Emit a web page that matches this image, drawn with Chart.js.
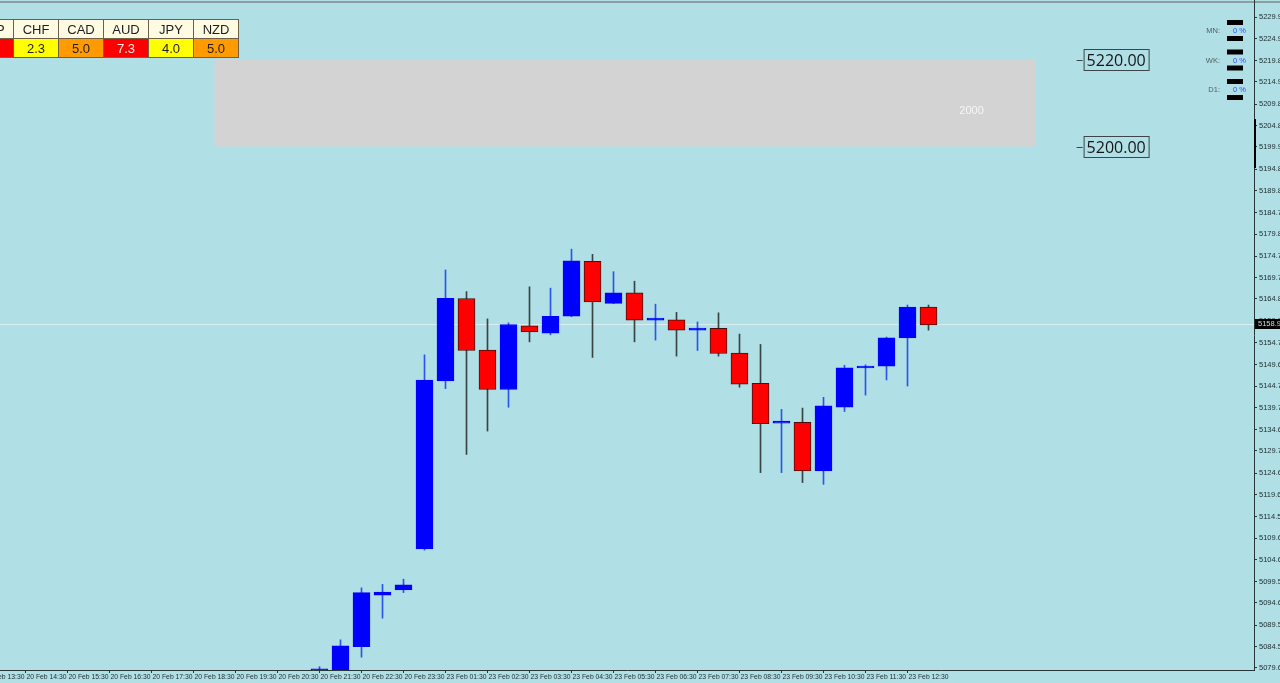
<!DOCTYPE html>
<html lang="en">
<head>
<meta charset="UTF-8" />
<title>Candles M30</title>
<script src="https://cdn.jsdelivr.net/npm/chart.js"></script>
<style>
  html, body { margin: 0; padding: 0; background: #b0e0e6; overflow: hidden; }
  #wrap { position: relative; width: 1280px; height: 683px; overflow: hidden; }
  canvas { position: absolute; left: 0; top: 0; }
  table.strength {
    position: absolute; left: -32px; top: 19px;
    border-collapse: collapse; table-layout: fixed;
    font-family: "Liberation Sans", Arial, sans-serif; font-size: 13px;
  }
  table.strength td {
    width: 44px; height: 18px; padding: 0;
    border: 1px solid #6e6048; text-align: center; color: #1e1e1e;
  }
  table.strength tr.head td { background: #fffbe3; }
</style>
</head>
<body>
<div id="wrap">
  <canvas id="chart" width="1280" height="683"></canvas>
  <table class="strength" id="strength"></table>
</div>

<script>
// 30 minute slots shown on the time axis
const slots = [
  "20 Feb 13:30", "20 Feb 14:00", "20 Feb 14:30", "20 Feb 15:00", "20 Feb 15:30", "20 Feb 16:00",
  "20 Feb 16:30", "20 Feb 17:00", "20 Feb 17:30", "20 Feb 18:00", "20 Feb 18:30", "20 Feb 19:00",
  "20 Feb 19:30", "20 Feb 20:00", "20 Feb 20:30", "20 Feb 21:00", "20 Feb 21:30", "20 Feb 22:00",
  "20 Feb 22:30", "20 Feb 23:00", "20 Feb 23:30", "23 Feb 01:00", "23 Feb 01:30", "23 Feb 02:00",
  "23 Feb 02:30", "23 Feb 03:00", "23 Feb 03:30", "23 Feb 04:00", "23 Feb 04:30", "23 Feb 05:00",
  "23 Feb 05:30", "23 Feb 06:00", "23 Feb 06:30", "23 Feb 07:00", "23 Feb 07:30", "23 Feb 08:00",
  "23 Feb 08:30", "23 Feb 09:00", "23 Feb 09:30", "23 Feb 10:00", "23 Feb 10:30", "23 Feb 11:00",
  "23 Feb 11:30", "23 Feb 12:00", "23 Feb 12:30", "23 Feb 13:00"
];
const firstCandle = 16; // candles start at 20 Feb 21:30

const opens  = [5079.0, 5079.1, 5084.5, 5096.4, 5097.6, 5107.1, 5145.9, 5164.9, 5153.0, 5143.9,
                5158.6, 5156.9, 5160.8, 5173.5, 5163.8, 5166.2, 5159.9, 5160.0, 5157.6, 5158.0,
                5152.3, 5145.3, 5136.1, 5136.3, 5125.1, 5139.8, 5148.9, 5149.3, 5155.8, 5162.9];
const highs  = [5079.9, 5086.1, 5098.1, 5098.9, 5100.1, 5151.9, 5171.5, 5166.5, 5160.2, 5159.3,
                5167.6, 5167.3, 5176.3, 5175.1, 5171.1, 5168.9, 5163.6, 5161.7, 5159.5, 5161.6,
                5156.7, 5154.3, 5139.3, 5139.6, 5142.1, 5149.5, 5149.6, 5156.0, 5163.4, 5163.4];
const lows   = [5078.8, 5078.9, 5082.1, 5091.1, 5097.0, 5106.8, 5144.1, 5128.9, 5134.3, 5139.8,
                5154.9, 5156.5, 5160.7, 5151.3, 5163.7, 5154.9, 5155.3, 5151.6, 5152.9, 5151.6,
                5144.4, 5124.7, 5124.7, 5122.4, 5122.0, 5138.8, 5142.6, 5146.1, 5144.7, 5157.6];
const closes = [5079.4, 5084.7, 5097.0, 5097.1, 5098.8, 5146.1, 5164.95, 5152.9, 5143.9, 5158.9,
                5157.2, 5160.8, 5173.6, 5164.1, 5166.2, 5159.9, 5160.4, 5157.6, 5158.1, 5152.2,
                5145.1, 5136.0, 5136.6, 5125.1, 5140.1, 5148.9, 5149.3, 5155.8, 5162.9, 5158.8];

const yTicks = [5229.90, 5224.95, 5219.85, 5214.90, 5209.80, 5204.85, 5199.90, 5194.80, 5189.85,
                5184.75, 5179.80, 5174.70, 5169.75, 5164.80, 5159.70, 5154.75, 5149.65, 5144.70,
                5139.75, 5134.65, 5129.70, 5124.60, 5119.65, 5114.55, 5109.60, 5104.65, 5099.55,
                5094.60, 5089.50, 5084.55, 5079.60];

const lastPrice = 5158.93;
const levels = [5220.00, 5200.00];
const zoneFrom = 11, zoneTo = 50.1, zoneHigh = 5220, zoneLow = 5200;
const zoneText = "2000";

const currencies = ["GBP", "CHF", "CAD", "AUD", "JPY", "NZD"];
const strengths = [6.7, 2.3, 5.0, 7.3, 4.0, 5.0];

const panelRows = ["MN:", "WK:", "D1:"];
const panelValues = ["0 %", "0 %", "0 %"];

// strength table
const table = document.getElementById("strength");
const cellColor = v => v >= 6 ? "#ff0000" : v >= 4.5 ? "#ff9a00" : "#ffff00";
table.innerHTML =
  "<tr class='head'>" + currencies.map(c => `<td>${c}</td>`).join("") + "</tr>" +
  "<tr>" + strengths.map(v =>
    `<td style="background:${cellColor(v)};color:${v >= 6 ? '#fff0f0' : '#1e1e1e'}">${v.toFixed(1)}</td>`
  ).join("") + "</tr>";

const isUp = k => closes[k] >= opens[k];
const bodies = opens.map((o, k) => ({ x: firstCandle + k, y: [o, closes[k]] }));
const wicks = lows.map((l, k) => ({ x: firstCandle + k, y: [l, highs[k]] }));

const decor = {
  id: "decor",
  beforeDraw(chart) {
    const { ctx, width, height } = chart;
    ctx.save();
    ctx.fillStyle = "#b0e0e6";
    ctx.fillRect(0, 0, width, height);
    ctx.fillStyle = "#8e9d9f";
    ctx.fillRect(0, 1, width, 2);
    ctx.restore();
  },
  beforeDatasetsDraw(chart) {
    const { ctx, chartArea: a, scales: { x, y } } = chart;
    ctx.save();
    const x0 = x.getPixelForValue(zoneFrom), x1 = x.getPixelForValue(zoneTo);
    const y0 = y.getPixelForValue(zoneHigh), y1 = y.getPixelForValue(zoneLow);
    ctx.fillStyle = "#d3d3d3";
    ctx.fillRect(x0, y0, x1 - x0, y1 - y0);
    ctx.fillStyle = "#f6f6f6";
    ctx.font = '11px "Liberation Sans"';
    ctx.textAlign = "center";
    ctx.textBaseline = "middle";
    ctx.fillText(zoneText, x1 - 64, (y0 + y1) / 2 + 8);

    const py = Math.round(y.getPixelForValue(lastPrice)) + 0.5;
    ctx.strokeStyle = "#d9f0f2";
    ctx.lineWidth = 1;
    ctx.beginPath();
    ctx.moveTo(a.left, py);
    ctx.lineTo(a.right, py);
    ctx.stroke();
    ctx.restore();
  },
  afterDraw(chart) {
    const { ctx, chartArea: a, scales: { x, y } } = chart;
    ctx.save();
    // level labels next to the zone
    const lx = x.getPixelForValue(zoneTo) + 48;
    ctx.font = '16px "Open Sans"';
    ctx.textBaseline = "middle";
    ctx.textAlign = "left";
    levels.forEach(v => {
      const py = Math.round(y.getPixelForValue(v));
      ctx.strokeStyle = "#3c4646";
      ctx.lineWidth = 1;
      ctx.beginPath();
      ctx.moveTo(lx - 7, py + 0.5);
      ctx.lineTo(lx - 1, py + 0.5);
      ctx.stroke();
      ctx.strokeRect(lx + 0.5, py - 10.5, 65, 21);
      ctx.fillStyle = "#151515";
      ctx.fillText(v.toFixed(2), lx + 3, py + 1);
    });

    // current price tag on the axis
    const pp = Math.round(y.getPixelForValue(lastPrice));
    ctx.fillStyle = "#000";
    ctx.fillRect(a.right + 1, pp - 5, 26, 10);
    ctx.fillStyle = "#d8d8d8";
    ctx.font = '7.5px "Liberation Sans"';
    ctx.fillText(lastPrice.toFixed(2), a.right + 4, pp);

    // scroll marker on the price axis
    ctx.fillStyle = "#000";
    ctx.fillRect(a.right, 119, 2, 49);

    // MN / WK / D1 panel
    panelRows.forEach((name, i) => {
      const cy = 31 + i * 29.5;
      ctx.fillStyle = "#000";
      ctx.fillRect(1227, cy - 11, 16, 5);
      ctx.fillRect(1227, cy + 5, 16, 5);
      ctx.font = '7.5px "Liberation Sans"';
      ctx.textAlign = "right";
      ctx.fillStyle = "#4f5d5e";
      ctx.fillText(name, 1220, cy);
      ctx.textAlign = "left";
      ctx.fillStyle = "#2a4dff";
      ctx.fillText(panelValues[i], 1233, cy);
    });
    ctx.restore();
  }
};

new Chart(document.getElementById("chart"), {
  type: "bar",
  data: {
    datasets: [
      {
        label: "body",
        data: bodies,
        order: 1,
        grouped: false,
        barThickness: 17,
        borderWidth: 1,
        borderSkipped: false,
        backgroundColor: c => isUp(c.dataIndex) ? "#0000ff" : "#ff0000",
        borderColor: c => isUp(c.dataIndex) ? "#0000ff" : "#4a0c0c"
      },
      {
        label: "wick",
        data: wicks,
        order: 2,
        grouped: false,
        barThickness: 1,
        borderWidth: 0,
        backgroundColor: c => isUp(c.dataIndex) ? "#2a55ee" : "#384444"
      }
    ]
  },
  options: {
    responsive: false,
    animation: false,
    devicePixelRatio: 1,
    layout: { padding: 0 },
    plugins: { legend: { display: false }, tooltip: { enabled: false } },
    scales: {
      x: {
        type: "linear",
        offset: false,
        min: 0.786,
        max: 60.5,
        grid: { offset: false, drawOnChartArea: false, drawTicks: true, tickLength: 3, color: "#263536" },
        border: { display: true, color: "#263536" },
        ticks: {
          autoSkip: false, maxRotation: 0, minRotation: 0,
          align: "start", padding: 0, labelOffset: 1,
          color: "#1c2a2b",
          font: { family: "Liberation Sans", size: 6.8 },
          callback: v => slots[v] ?? ""
        },
        afterBuildTicks: s => { s.ticks = slots.map((t, i) => ({ value: i })).filter(t => t.value % 2 === 0); },
        afterFit: s => { s.height = 13; s.paddingLeft = 0; s.paddingRight = 0; }
      },
      y: {
        position: "right",
        beginAtZero: false,
        min: 5079.13,
        max: 5233.83,
        grid: { drawOnChartArea: false, drawTicks: true, tickLength: 3, color: "#263536" },
        border: { display: true, color: "#263536" },
        ticks: {
          padding: 2,
          color: "#1c2a2b",
          font: { family: "Liberation Sans", size: 7.5 },
          callback: v => v.toFixed(2)
        },
        afterBuildTicks: s => { s.ticks = yTicks.map(v => ({ value: v })); },
        afterFit: s => { s.width = 26; s.paddingTop = 0; s.paddingBottom = 0; }
      }
    }
  },
  plugins: [decor]
});
</script>
</body>
</html>
